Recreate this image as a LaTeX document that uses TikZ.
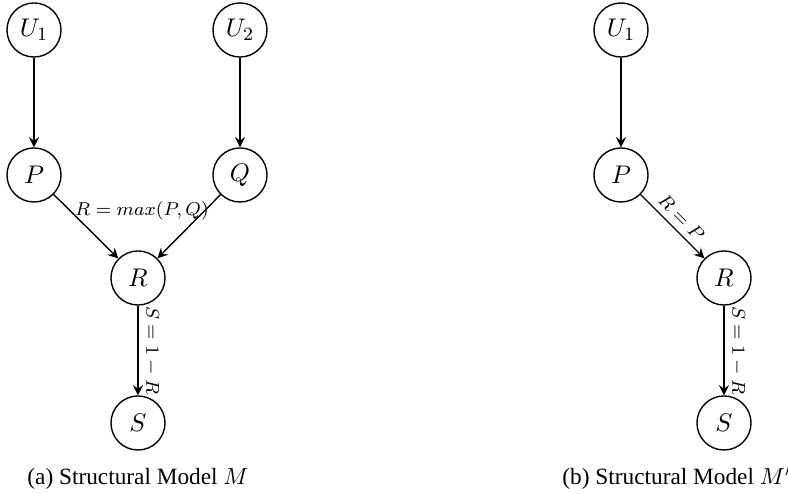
\documentclass[tikz,border=0pt]{standalone}
\usepackage{fontspec}
\usetikzlibrary{arrows.meta}
\newfontfamily\capfont{Liberation Serif}
\begin{document}
\begin{tikzpicture}[x=0.4292pt,y=-0.4292pt,
  var/.style={draw,circle,line width=0.6pt,minimum size=23.2pt,inner sep=0pt,font=\fontsize{11}{13}\selectfont},
  edge/.style={-{Stealth[length=4.4pt,width=4.4pt,inset=1.6pt]},line width=0.6pt},
  lab/.style={font=\fontsize{8.5}{10}\selectfont,inner sep=2.5pt},
  captext/.style={font=\capfont\fontsize{10}{12}\selectfont,inner sep=0pt}]
\useasboundingbox (0,0) rectangle (788,494);
% (a)
\node[var] (U1) at (34,30) {$U_1$};
\node[var] (U2) at (240,30) {$U_2$};
\node[var] (P) at (34,175) {$P$};
\node[var] (Q) at (240,175) {$Q$};
\node[var] (R) at (138,278) {$R$};
\node[var] (S) at (138,423) {$S$};
\draw[edge] (U1) -- (P);
\draw[edge] (U2) -- (Q);
\draw[edge] (P) -- node[lab,midway,shift={(56,-16)}] (lmax) {$R = max(P,Q)$} (R);
\draw[edge] (Q) -- (R);
\draw[edge] (R) -- node[lab,midway,above,sloped] (ls1) {$S = 1 - R$} (S);
\node[captext,anchor=base] (capa) at (138,485) {(a) Structural Model $M$};
% (b)
\node[var] (U1b) at (621,30) {$U_1$};
\node[var] (Pb) at (621,175) {$P$};
\node[var] (Rb) at (724,278) {$R$};
\node[var] (Sb) at (724,423) {$S$};
\draw[edge] (U1b) -- (Pb);
\draw[edge] (Pb) -- node[lab,midway,above,sloped] (lrp) {$R = P$} (Rb);
\draw[edge] (Rb) -- node[lab,midway,above,sloped] (ls2) {$S = 1 - R$} (Sb);
\node[captext,anchor=base west] (capb) at (562,485) {(b) Structural Model $M'$};
\end{tikzpicture}
\end{document}
